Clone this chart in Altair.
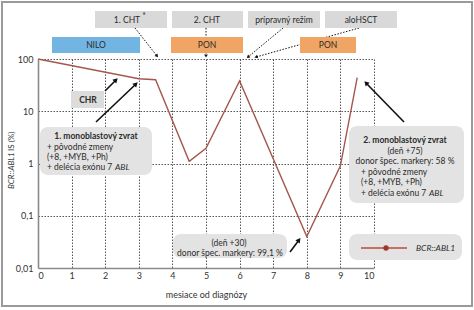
import math
import altair as alt
import pandas as pd

# ---------------- data ----------------
months = [0, 3, 3.5, 4.5, 5, 6, 8, 9, 9.5]
bcr_abl1 = [100, 42, 40, 1.1, 1.95, 38, 0.04, 0.9, 44]
x_ticks = list(range(11))
y_ticks = [0.01, 0.1, 1, 10, 100]

# ---------------- layout ----------------
W, H = 336, 209
OX, OY = 38, 59
FONT = "Lato"
FS = 8.5


def shift(d):
    d = d.copy()
    for c in d.columns:
        if c.startswith("x"):
            d[c] = d[c] - OX
        if c.startswith("y"):
            d[c] = d[c] - OY
    return d


df = pd.DataFrame({"month": months, "value": bcr_abl1})

line = alt.Chart(df).mark_line(color="#a5574d", strokeWidth=1.4).encode(
    x=alt.X(
        "month:Q",
        scale=alt.Scale(domain=[0, 10], nice=False, zero=False),
        axis=alt.Axis(
            values=x_ticks,
            title="mesiace od diagnózy",
            titleFontWeight="normal",
            titleFontSize=9,
            titleFont=FONT,
            titleColor="#333",
            titlePadding=10,
            labelFont=FONT,
            labelFontSize=9,
            labelColor="#333",
            labelPadding=3,
            ticks=False,
            domainColor="#8a8a8a",
            domainWidth=1.6,
            grid=True,
            gridColor="#555",
            gridDash=[1.5, 1.5],
            gridWidth=1,
            gridOpacity={"condition": {"test": "datum.value === 0", "value": 0}, "value": 1},
        ),
    ),
    y=alt.Y(
        "value:Q",
        scale=alt.Scale(type="log", domain=[0.01, 100], nice=False),
        axis=alt.Axis(
            values=y_ticks,
            title=None,
            labelExpr="replace(toString(datum.value), '.', ',')",
            labelFont=FONT,
            labelFontSize=9,
            labelColor="#333",
            labelPadding=5,
            ticks=False,
            domainColor="#8a8a8a",
            domainWidth=1.6,
            grid=True,
            gridColor="#555",
            gridDash=[1.5, 1.5],
            gridWidth=1,
            gridOpacity={"condition": {"test": "datum.value === 0.01", "value": 0}, "value": 1},
        ),
    ),
)

# ---------------- decorations (pixel positions, absolute image coords) ----------------
square_boxes = pd.DataFrame([
    (95, 11, 167, 28, "#d9d9d9"),
    (172, 11, 243, 28, "#d9d9d9"),
    (248, 11, 320, 28, "#d9d9d9"),
    (325, 11, 397, 28, "#d9d9d9"),
    (71, 91, 104, 108, "#dcdcdc"),
], columns=["x0", "y0", "x1", "y1", "fill"])

color_boxes = pd.DataFrame([
    (52, 37, 140, 53, "#72b5e3"),
    (171, 37, 243, 53, "#f0a564"),
    (300, 37, 356, 53, "#f0a564"),
], columns=["x0", "y0", "x1", "y1", "fill"])

round_boxes = pd.DataFrame([
    (40, 127, 152, 175, "#e3e3e3"),
    (349, 126, 464, 203, "#e3e3e3"),
    (173, 234, 287, 258, "#e3e3e3"),
    (349, 234, 462, 260, "#e3e3e3"),
], columns=["x0", "y0", "x1", "y1", "fill"])

frame = pd.DataFrame([(2, 2, 472, 306)], columns=["x0", "y0", "x1", "y1"])

black_arrows = pd.DataFrame([
    (105, 91, 116, 80),
    (96, 122, 136, 84),
    (404, 122, 366, 83),
    (290, 252, 299, 240),
], columns=["xa", "ya", "xb", "yb"])

dotted_arrows = pd.DataFrame([
    (135, 28, 157, 56),
    (206, 28, 206, 56),
    (283, 28, 248, 57),
    (359, 28, 256, 57),
], columns=["xa", "ya", "xb", "yb"])

texts = [
    ("1. CHT", 127, 20, "c"),
    ("*", 144, 16, "c"),
    ("2. CHT", 207, 20, "c"),
    ("prípravný režim", 284, 20, "c"),
    ("aloHSCT", 361, 20, "c"),
    ("NILO", 96, 45, "c"),
    ("PON", 207, 45, "c"),
    ("PON", 328, 45, "c"),
    ("CHR", 88, 100, "b"),
    ("1. monoblastový zvrat", 96, 136, "b"),
    ("+ pôvodné zmeny", 47, 146.5, "l"),
    ("(+8, +MYB, +Ph)", 47, 156.5, "l"),
    ("+ delécia exónu 7", 47, 166.5, "l"),
    ("ABL", 115, 166.5, "i"),
    ("2. monoblastový zvrat", 405, 140, "b"),
    ("(deň +75)", 405, 150.5, "c"),
    ("donor špec. markery: 58 %", 405, 161, "c"),
    ("+ pôvodné zmeny", 361, 171.5, "l"),
    ("(+8, +MYB, +Ph)", 361, 182, "l"),
    ("+ delécia exónu 7", 361, 192.5, "l"),
    ("ABL", 429, 192.5, "i"),
    ("(deň +30)", 229, 243, "c"),
    ("donor špec. markery: 99,1 %", 230, 253, "c"),
    ("BCR::ABL1", 416, 248, "i"),
]
tdf = shift(pd.DataFrame(texts, columns=["text", "x", "y", "g"]))


def rects(d, **mk):
    d = shift(d)
    enc = dict(
        x=alt.X("x0:Q", scale=None, axis=None),
        x2="x1:Q",
        y=alt.Y("y0:Q", scale=None, axis=None),
        y2="y1:Q",
    )
    if "fill" in d.columns:
        enc["color"] = alt.Color("fill:N", scale=None, legend=None)
    return alt.Chart(d).mark_rect(**mk).encode(**enc)


def arrows(d, dash, head_size, width):
    d = shift(d)
    d["ang"] = [
        (math.degrees(math.atan2(xb - xa, -(yb - ya))) + 360) % 360
        for xa, ya, xb, yb in zip(d.xa, d.ya, d.xb, d.yb)
    ]
    rule_kw = dict(color="#111", strokeWidth=width)
    if dash:
        rule_kw["strokeDash"] = dash
    shaft = alt.Chart(d).mark_rule(**rule_kw).encode(
        x=alt.X("xa:Q", scale=None, axis=None),
        y=alt.Y("ya:Q", scale=None, axis=None),
        x2="xb:Q",
        y2="yb:Q",
    )
    head = alt.Chart(d).mark_point(shape="triangle-up", filled=True, color="#111", opacity=1, size=head_size).encode(
        x=alt.X("xb:Q", scale=None, axis=None),
        y=alt.Y("yb:Q", scale=None, axis=None),
        angle=alt.Angle("ang:Q", scale=None),
    )
    return shaft + head


def text_layer(g, **mk):
    d = tdf[tdf.g == g]
    return alt.Chart(d).mark_text(font=FONT, fontSize=FS, color="#2b2b2b", baseline="middle", **mk).encode(
        x=alt.X("x:Q", scale=None, axis=None),
        y=alt.Y("y:Q", scale=None, axis=None),
        text="text:N",
    )


legend_line = pd.DataFrame([(361, 248, 407, 248)], columns=["xa", "ya", "xb", "yb"])
legend_pt = pd.DataFrame([(386, 248)], columns=["x", "y"])

legend_rule = alt.Chart(shift(legend_line)).mark_rule(color="#b84a3c", strokeWidth=1.6).encode(
    x=alt.X("xa:Q", scale=None, axis=None),
    y=alt.Y("ya:Q", scale=None, axis=None),
    x2="xb:Q",
    y2="yb:Q",
)
legend_dot = alt.Chart(shift(legend_pt)).mark_circle(color="#a3362a", size=28, opacity=1).encode(
    x=alt.X("x:Q", scale=None, axis=None),
    y=alt.Y("y:Q", scale=None, axis=None),
)

ytitle = shift(pd.DataFrame([("BCR::ABL1", 12, 189, "i"), ("IS (%)", 12, 151, "n")], columns=["text", "x", "y", "g"]))
yt_i = alt.Chart(ytitle[ytitle.g == "i"]).mark_text(font=FONT, fontSize=8, fontStyle="italic", angle=270, align="left", baseline="middle", color="#333").encode(
    x=alt.X("x:Q", scale=None, axis=None), y=alt.Y("y:Q", scale=None, axis=None), text="text:N")
yt_n = alt.Chart(ytitle[ytitle.g == "n"]).mark_text(font=FONT, fontSize=8, angle=270, align="left", baseline="middle", color="#333").encode(
    x=alt.X("x:Q", scale=None, axis=None), y=alt.Y("y:Q", scale=None, axis=None), text="text:N")

chart = alt.layer(
    line,
    arrows(dotted_arrows, [1.5, 1.5], 14, 1),
    rects(square_boxes),
    rects(color_boxes),
    rects(round_boxes, cornerRadius=8),
    arrows(black_arrows, None, 30, 1.6),
    rects(frame, fillOpacity=0, stroke="#9a9a9a", strokeWidth=2),
    text_layer("c", align="center"),
    text_layer("l", align="left"),
    text_layer("b", align="center", fontWeight="bold"),
    text_layer("i", align="left", fontStyle="italic"),
    legend_rule,
    legend_dot,
    yt_i,
    yt_n,
).properties(
    width=W,
    height=H,
    autosize=alt.AutoSizeParams(type="none"),
    padding={"left": OX, "top": OY, "right": 474 - OX - W, "bottom": 310 - OY - H},
    background="white",
).configure_view(stroke=None)

chart.save("out.html", embed_options={"renderer": "svg", "actions": False})
